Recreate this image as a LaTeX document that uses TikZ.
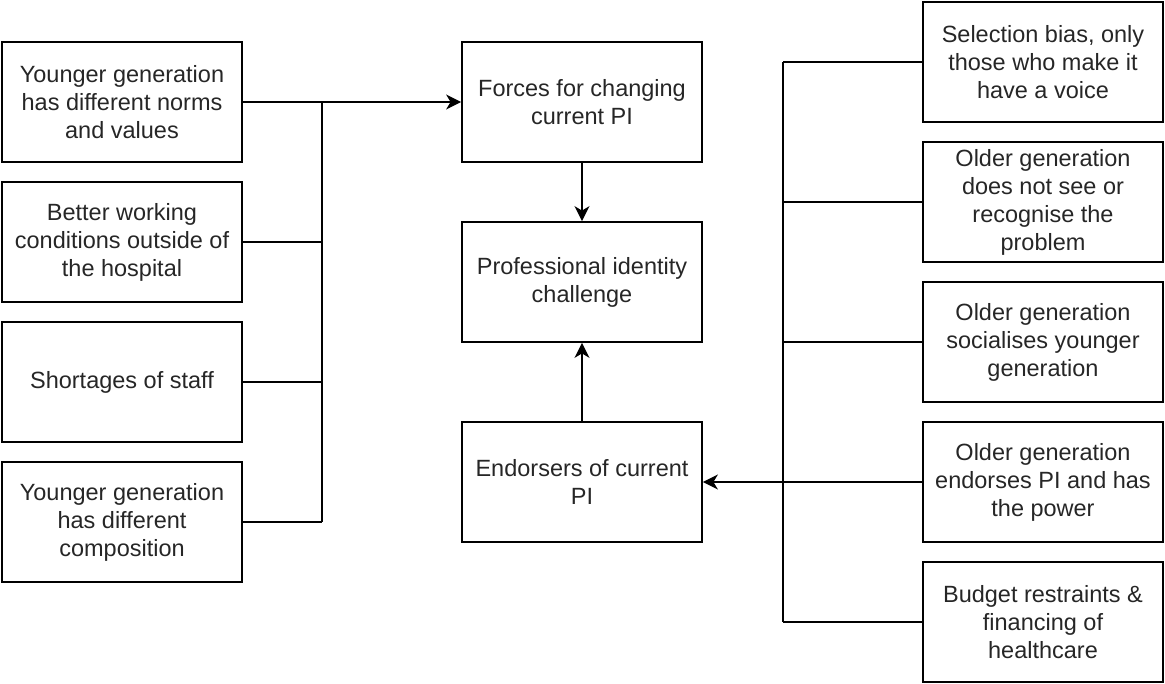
\documentclass[tikz,border=0pt]{standalone}
\usepackage{fontspec}
\setmainfont{Liberation Sans}
\usetikzlibrary{arrows.meta}
\begin{document}
\begin{tikzpicture}[x=1pt,y=-1pt,
  box/.style={draw=black, line width=1.8pt, minimum width=240pt, minimum height=120pt, inner sep=0pt, align=center, font=\fontsize{23.5}{28}\selectfont, text=black!85},
  conn/.style={line width=1.5pt},
  arr/.style={conn, -{Stealth[length=15pt,width=15pt,inset=4.5pt]}}]
\useasboundingbox (0,0) rectangle (1165,684);
% left column
\node[box] (l1) at (122,102) {Younger generation\\has different norms\\and values};
\node[box] (l2) at (122,242) {Better working\\conditions outside of\\the hospital};
\node[box] (l3) at (122,382) {Shortages of staff};
\node[box] (l4) at (122,522) {Younger generation\\has different\\composition};
% middle column
\node[box] (f) at (582,102) {Forces for changing\\current PI};
\node[box] (p) at (582,282) {Professional identity\\challenge};
\node[box] (e) at (582,482) {Endorsers of current\\PI};
% right column
\node[box] (r1) at (1043,62) {Selection bias, only\\those who make it\\have a voice};
\node[box] (r2) at (1043,202) {Older generation\\does not see or\\recognise the\\problem};
\node[box] (r3) at (1043,342) {Older generation\\socialises younger\\generation};
\node[box] (r4) at (1043,482) {Older generation\\endorses PI and has\\the power};
\node[box] (r5) at (1043,622) {Budget restraints \&\\financing of\\healthcare};
% buses
\coordinate (lbt) at (322,102);
\coordinate (lbb) at (322,522);
\coordinate (rbt) at (783,62);
\coordinate (rbb) at (783,622);
\draw[conn] (lbt) -- (lbb);
\draw[conn] (rbt) -- (rbb);
\draw[conn] (l2.east) -- (l2.east -| lbt);
\draw[conn] (l3.east) -- (l3.east -| lbt);
\draw[conn] (l4.east) -- (l4.east -| lbt);
\draw[conn] (r1.west) -- (r1.west -| rbt);
\draw[conn] (r2.west) -- (r2.west -| rbt);
\draw[conn] (r3.west) -- (r3.west -| rbt);
\draw[conn] (r5.west) -- (r5.west -| rbt);
\draw[arr] (l1.east) -- (f.west);
\draw[arr] (r4.west) -- (e.east);
\draw[arr] (f.south) -- (p.north);
\draw[arr] (e.north) -- (p.south);
\end{tikzpicture}
\end{document}
